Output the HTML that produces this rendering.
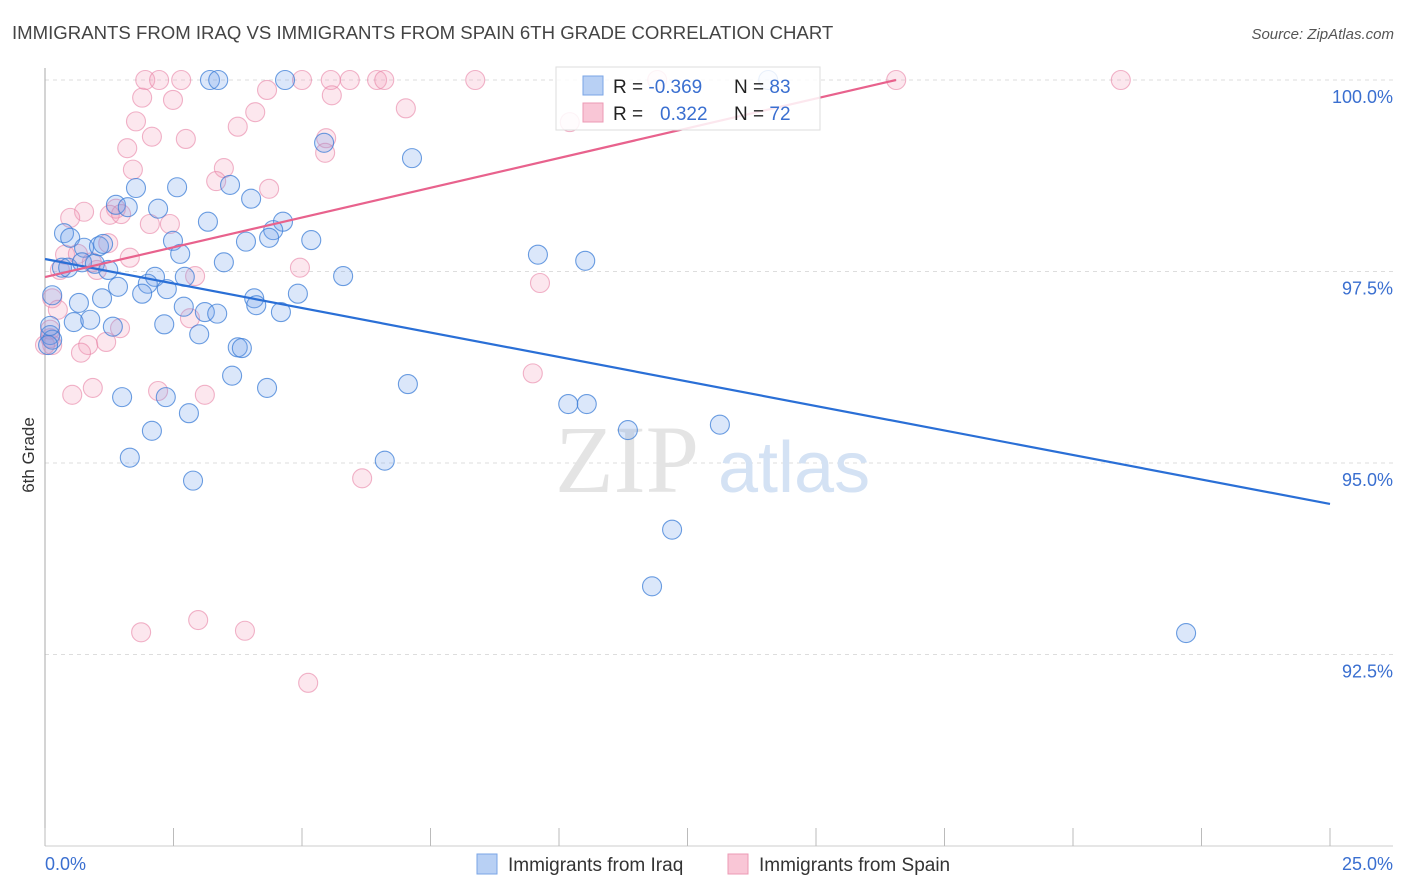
<!DOCTYPE html>
<html><head><meta charset="utf-8"><style>
body{margin:0;background:#fff;font-family:"Liberation Sans",sans-serif}
svg{display:block}
</style></head><body>
<svg id="chart" width="1406" height="892" xmlns="http://www.w3.org/2000/svg">
<text x="12" y="39" font-size="18.6" fill="#444">IMMIGRANTS FROM IRAQ VS IMMIGRANTS FROM SPAIN 6TH GRADE CORRELATION CHART</text>
<text x="1394" y="39" font-size="15" fill="#555" font-style="italic" text-anchor="end">Source: ZipAtlas.com</text>
<text x="34" y="455" font-size="17" fill="#333" text-anchor="middle" transform="rotate(-90 34 455)">6th Grade</text>
<g id="grid"></g>
<text x="555" y="492" font-size="96" fill="#e4e4e4" font-family="Liberation Serif,serif">ZIP</text>
<text x="718" y="492" font-size="72" fill="#d4e2f4">atlas</text>
<line x1="45" y1="68" x2="45" y2="846" stroke="#aaa"/>
<line x1="45" y1="846" x2="1393" y2="846" stroke="#ccc"/>
<g id="ticks"></g>
<g id="points"></g>
<g id="trends"></g>
<g>
<rect x="556" y="67" width="264" height="63" fill="#fff" fill-opacity="0.85" stroke="#ddd"/>
<rect x="583" y="76" width="20" height="19" fill="#b8d0f4" stroke="#7aa5e6"/>
<rect x="583" y="103" width="20" height="19" fill="#f9c6d6" stroke="#ec9ab4"/>
<text x="613" y="93" font-size="19" fill="#222">R = <tspan fill="#3a6fd0">-0.369</tspan></text>
<text x="734" y="93" font-size="19" fill="#222">N = <tspan fill="#3a6fd0">83</tspan></text>
<text x="613" y="120" font-size="19" fill="#222">R = <tspan fill="#3a6fd0" x="660">0.322</tspan></text>
<text x="734" y="120" font-size="19" fill="#222">N = <tspan fill="#3a6fd0">72</tspan></text>
</g>
<g>
<rect x="477" y="854" width="20" height="20" fill="#b8d0f4" stroke="#7aa5e6"/>
<text x="508" y="871" font-size="19" fill="#333">Immigrants from Iraq</text>
<rect x="728" y="854" width="20" height="20" fill="#f9c6d6" stroke="#ec9ab4"/>
<text x="759" y="871" font-size="19" fill="#333">Immigrants from Spain</text>
</g>
</svg>
<script>
const yTicks=[100,97.5,95,92.5];
const yTickLabels=["100.0%","97.5%","95.0%","92.5%"];
const xTickLabels=["0.0%","25.0%"];
const iraqX=[3.21,3.37,4.67,14.07,5.43,7.14,1.77,2.57,3.60,1.38,1.61,2.20,4.01,3.17,4.63,4.44,0.37,0.49,0.76,1.05,1.13,2.49,3.91,4.36,5.18,2.63,3.48,5.80,9.59,10.51,0.33,0.45,0.72,0.97,1.23,2.14,2.00,2.72,1.42,1.89,2.37,4.07,4.92,0.14,0.66,1.11,4.11,2.70,3.11,3.35,4.59,0.56,0.88,1.32,2.32,3.00,3.75,3.83,0.10,0.14,3.64,4.32,7.06,1.50,2.35,10.18,10.54,2.80,2.08,11.34,13.13,1.65,6.61,2.88,12.20,11.81,22.20,0.10,0.06];
const iraqY=[100,100,100,100,99.18,98.98,98.59,98.60,98.63,98.37,98.34,98.32,98.45,98.15,98.15,98.04,98.00,97.94,97.81,97.83,97.86,97.90,97.89,97.94,97.91,97.73,97.62,97.44,97.72,97.64,97.55,97.55,97.62,97.60,97.52,97.43,97.34,97.43,97.30,97.21,97.27,97.15,97.21,97.19,97.09,97.15,97.06,97.04,96.97,96.95,96.97,96.84,96.87,96.78,96.81,96.68,96.51,96.50,96.67,96.61,96.14,95.98,96.03,95.86,95.86,95.77,95.77,95.65,95.42,95.43,95.50,95.07,95.03,94.77,94.13,93.39,92.78,96.79,96.54];
const spainX=[1.95,2.22,2.65,5.00,5.56,5.93,6.46,6.60,8.37,11.91,16.56,20.93,1.89,2.49,4.32,5.58,7.02,1.77,4.09,2.08,2.74,3.75,1.60,5.47,5.45,10.21,1.71,3.48,3.33,4.36,0.76,0.49,1.38,1.26,1.48,2.04,2.43,1.23,1.65,0.39,0.64,0.91,1.01,0.29,2.92,4.96,9.63,0.14,0.25,2.82,1.46,0.84,1.19,0.70,0.10,0.14,9.49,0.53,0.93,2.20,3.11,6.17,1.87,2.98,3.89,5.12,0.10,0.00];
const spainY=[100,100,100,100,100,100,100,100,100,100,100,100,99.77,99.74,99.87,99.80,99.63,99.46,99.58,99.26,99.23,99.39,99.11,99.24,99.05,99.45,98.83,98.85,98.68,98.58,98.28,98.20,98.32,98.24,98.25,98.12,98.12,97.87,97.68,97.72,97.73,97.62,97.52,97.52,97.44,97.55,97.35,97.15,97.00,96.89,96.76,96.54,96.58,96.44,96.63,96.54,96.17,95.89,95.98,95.94,95.89,94.80,92.79,92.95,92.81,92.13,96.74,96.54];
const iraqTrend=[[0,97.663],[25,94.465]];
const spainTrend=[[0,97.428],[16.556,100]];
const NS="http://www.w3.org/2000/svg";
const xs=v=>45+v/25*1285;
const ys=v=>80+(100-v)/2.5*191.5;
function mk(tag,attrs,parent){const e=document.createElementNS(NS,tag);for(const k in attrs)e.setAttribute(k,attrs[k]);parent.appendChild(e);return e;}
const grid=document.getElementById('grid');
yTicks.forEach((t,i)=>{
 const l=mk('line',{x1:45,x2:1393,y1:ys(t),y2:ys(t),stroke:'#ddd','stroke-dasharray':'4,4'},grid);
 
 
 const tx=mk('text',{x:1393,y:ys(t)+23,'font-size':18,fill:'#3a6fd0','text-anchor':'end'},grid);
 tx.textContent=yTickLabels[i];
 
 
});
const ticks=document.getElementById('ticks');
for(let i=0;i<=10;i++){
 const l=mk('line',{x1:xs(i*2.5),x2:xs(i*2.5),y1:828,y2:846,stroke:'#bbb'},ticks);
 
 
}
[[0,'start',45],[25,'end',1393]].forEach((d,i)=>{
 const tx=mk('text',{x:d[2],y:870,'font-size':18,fill:'#3a6fd0','text-anchor':d[1]},ticks);
 tx.textContent=xTickLabels[i];
 
 
});
const pts=document.getElementById('points');
function drawSeries(X,Y,fill,stroke,name){
 X.forEach((x,i)=>{
  const c=mk('circle',{cx:xs(x),cy:ys(Y[i]),r:9.5,fill:fill,stroke:stroke,'stroke-width':1.1},pts);
  
  
 });
}
drawSeries(spainX,spainY,'rgba(244,160,188,0.25)','rgba(232,130,165,0.6)','spain-point');
drawSeries(iraqX,iraqY,'rgba(110,160,235,0.25)','rgba(60,125,215,0.75)','iraq-point');
const tr=document.getElementById('trends');
const l1=mk('line',{x1:xs(iraqTrend[0][0]),y1:ys(iraqTrend[0][1]),x2:xs(iraqTrend[1][0]),y2:ys(iraqTrend[1][1]),stroke:'#2a6fd6','stroke-width':2.2},tr);


const l2=mk('line',{x1:xs(spainTrend[0][0]),y1:ys(spainTrend[0][1]),x2:xs(spainTrend[1][0]),y2:ys(spainTrend[1][1]),stroke:'#e8628d','stroke-width':2.2},tr);


</script>
</body></html>
